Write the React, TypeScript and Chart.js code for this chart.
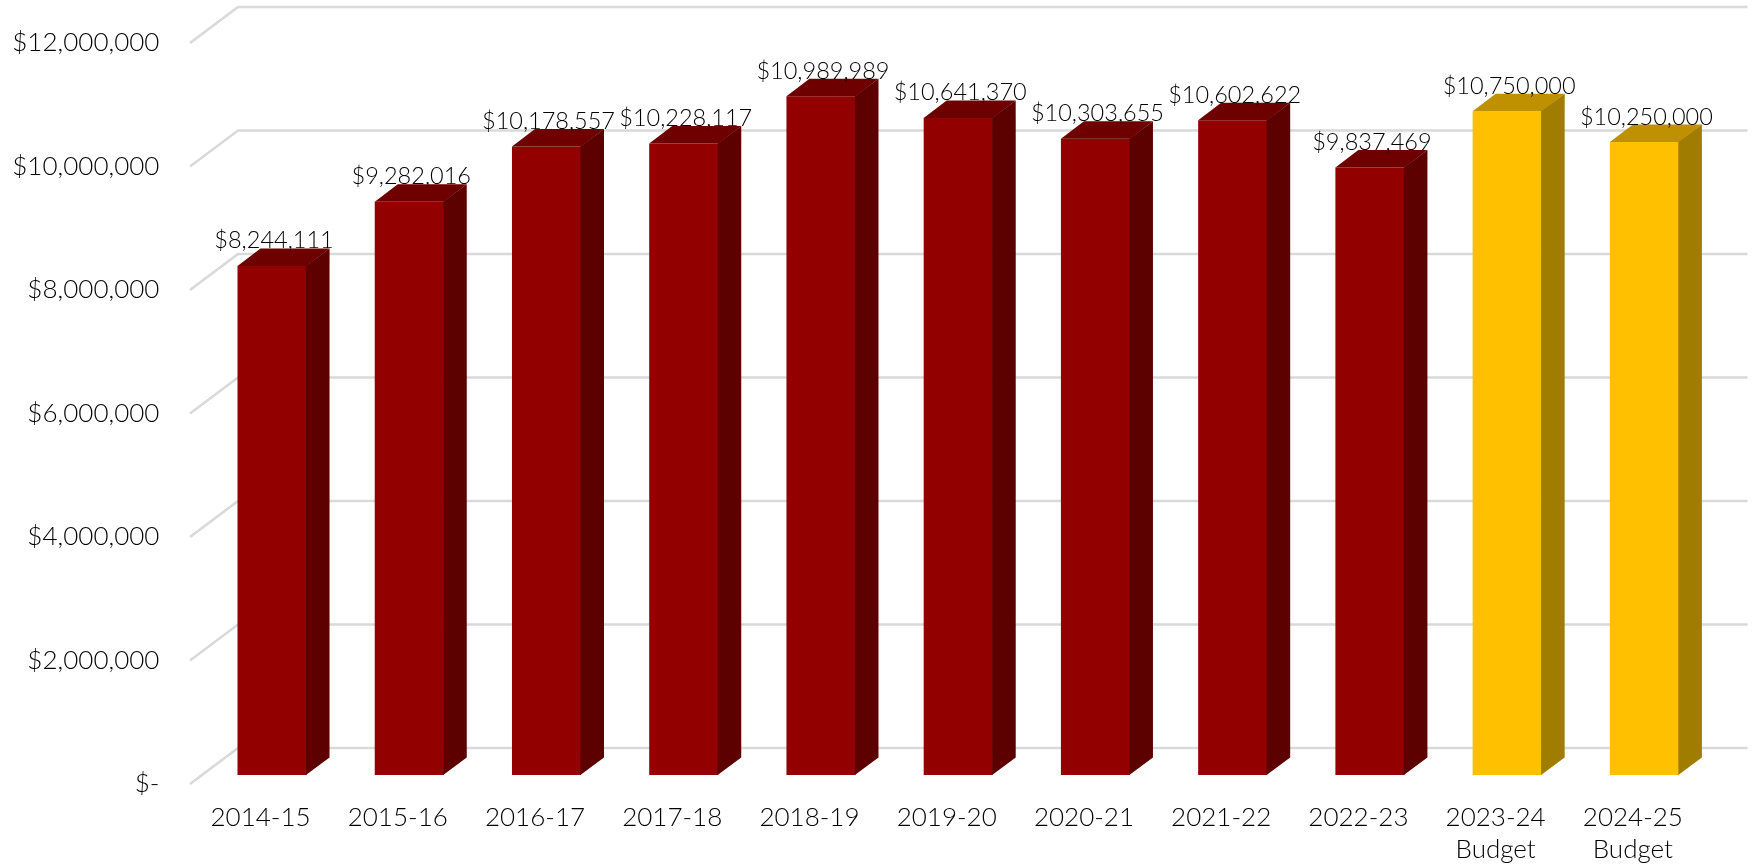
import React, { useEffect, useRef } from "react";
import { Chart, registerables } from "chart.js";

Chart.register(...registerables);

const categories: (string | string[])[] = [
  "2014-15", "2015-16", "2016-17", "2017-18", "2018-19", "2019-20",
  "2020-21", "2021-22", "2022-23", ["2023-24", "Budget"], ["2024-25", "Budget"],
];
const spending = [
  8244111, 9282016, 10178557, 10228117, 10989989, 10641370,
  10303655, 10602622, 9837469, 10750000, 10250000,
];
const isBudget = [false, false, false, false, false, false, false, false, false, true, true];

const ACTUAL = { front: "#920000", top: "#6e0000", side: "#5c0000" };
const BUDGET = { front: "#ffc000", top: "#bf9000", side: "#a07c00" };

const FONT = "Lato, 'Noto Sans', sans-serif";
const TEXT = "#000000";
const GRID = "#d9d9d9";

// Extrusion of each bar into the chart's depth
const BAR_DX = 23;
const BAR_DY = 17.5;
// Small overlap so no seam shows between a bar's faces
const SEAM = 0.6;
// Where the floor and back wall sit relative to the bars' front plane
const BACK_DX = 34.6;
const BACK_DY = 27;
const WALL_DX = 13.4;
const WALL_DY = 9;

const poly = (ctx: CanvasRenderingContext2D, pts: number[][], fill: string) => {
  ctx.beginPath();
  pts.forEach(([x, y], i) => (i ? ctx.lineTo(x, y) : ctx.moveTo(x, y)));
  ctx.closePath();
  ctx.fillStyle = fill;
  ctx.fill();
};

const backdrop = {
  id: "backdrop",
  beforeDatasetsDraw(chart: any) {
    const { ctx, chartArea, scales } = chart;
    ctx.save();
    ctx.strokeStyle = GRID;
    ctx.lineWidth = 2.5;
    scales.y.ticks.forEach((t: any) => {
      const y = scales.y.getPixelForValue(t.value);
      ctx.beginPath();
      ctx.moveTo(chartArea.left - WALL_DX, y + WALL_DY);
      ctx.lineTo(chartArea.left + BACK_DX, y - BACK_DY);
      ctx.lineTo(chartArea.right + BACK_DX, y - BACK_DY);
      ctx.stroke();
    });
    ctx.restore();
  },
};

const extrusion = {
  id: "extrusion",
  afterDatasetsDraw(chart: any) {
    const { ctx } = chart;
    const bars = chart.getDatasetMeta(0).data;
    ctx.save();
    bars.forEach((bar: any, i: number) => {
      const c = isBudget[i] ? BUDGET : ACTUAL;
      const { x, y, base, width } = bar.getProps(["x", "y", "base", "width"], true);
      const l = x - width / 2;
      const r = x + width / 2;
      poly(ctx, [[l, y], [l + BAR_DX, y - BAR_DY], [r + BAR_DX, y - BAR_DY], [r, y]], c.top);
      poly(ctx, [[r - SEAM, y], [r + BAR_DX, y - BAR_DY], [r + BAR_DX, base - BAR_DY], [r - SEAM, base]], c.side);
    });
    ctx.font = `300 23.5px ${FONT}`;
    ctx.fillStyle = TEXT;
    ctx.textAlign = "center";
    ctx.textBaseline = "alphabetic";
    bars.forEach((bar: any, i: number) => {
      const { x, y } = bar.getProps(["x", "y"], true);
      ctx.fillText(`$${spending[i].toLocaleString("en-US")}`, x + 2, y - BAR_DY);
    });
    ctx.restore();
  },
};

export default function App() {
  const ref = useRef<HTMLCanvasElement>(null);

  useEffect(() => {
    const chart = new Chart(ref.current!, {
      type: "bar",
      data: {
        labels: categories,
        datasets: [
          {
            data: spending,
            backgroundColor: isBudget.map((b) => (b ? BUDGET.front : ACTUAL.front)),
            barPercentage: 0.503,
            categoryPercentage: 1,
          },
        ],
      },
      options: {
        animation: false,
        responsive: false,
        layout: { padding: { top: 34, right: 39, left: 0, bottom: 0 } },
        plugins: { legend: { display: false }, tooltip: { enabled: false } },
        scales: {
          x: {
            grid: { display: false, drawTicks: false },
            border: { display: false },
            afterFit: (s: any) => {
              s.height = 90;
              s.paddingLeft = 0;
              s.paddingRight = 0;
            },
            ticks: {
              autoSkip: false,
              maxRotation: 0,
              labelOffset: -11.5,
              padding: 27,
              color: TEXT,
              font: { family: FONT, size: 26, weight: 300, lineHeight: 1.22 },
            },
          },
          y: {
            min: 0,
            max: 12000000,
            grid: { display: false, drawTicks: false },
            border: { display: false },
            afterFit: (s: any) => {
              s.width = 203.4;
              s.paddingTop = 0;
              s.paddingBottom = 0;
            },
            ticks: {
              stepSize: 2000000,
              padding: 44,
              labelOffset: WALL_DY,
              color: TEXT,
              font: { family: FONT, size: 26, weight: 300 },
              callback: (v: any) => (v === 0 ? "$-" : `$${Number(v).toLocaleString("en-US")}`),
            },
          },
        },
      },
      plugins: [backdrop, extrusion],
    });
    return () => chart.destroy();
  }, []);

  return (
    <div style={{ position: "fixed", left: 0, top: 0, width: 1752, height: 865, background: "#fff" }}>
      <canvas ref={ref} width={1752} height={865} style={{ display: "block" }} />
    </div>
  );
}
